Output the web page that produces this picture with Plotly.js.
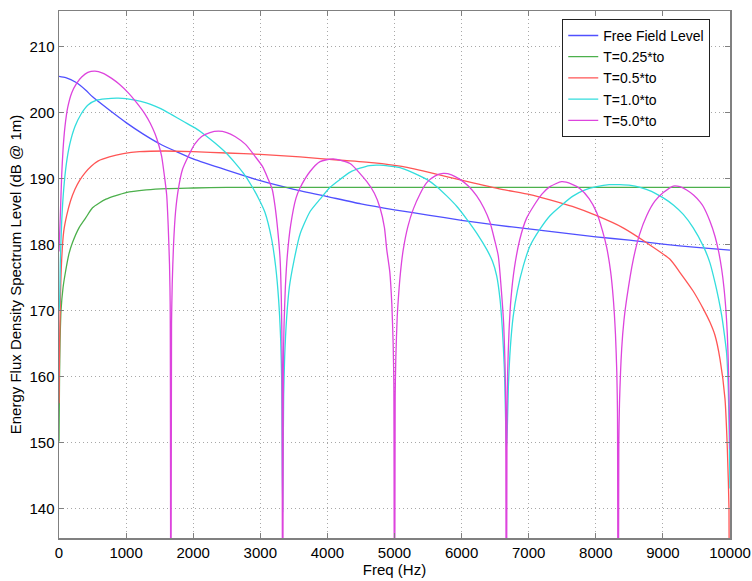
<!DOCTYPE html>
<html>
<head>
<meta charset="utf-8">
<script src="https://cdn.plot.ly/plotly-3.0.1.min.js"></script>
<style>html,body{margin:0;padding:0;background:#fff;}#chart{width:752px;height:581px;}</style>
</head>
<body>
<div id="chart"></div>
<script>
// Free Field Level
var freeF = [0,100,250,400,500,750,1000,1250,1500,1750,2000,2500,3000,3500,4000,4500,5000,5500,6000,6500,7000,7500,8000,8500,9000,9500,10000];
var freeL = [205.5,205.3,204.6,203.4,202.4,200.4,198.5,196.8,195.3,194.1,193.0,191.3,189.7,188.4,187.3,186.2,185.3,184.5,183.7,183.0,182.4,181.8,181.2,180.7,180.1,179.6,179.2];

// T=0.25*to
var t025F = [0,8,15,30,60,90,150,200,300,400,500,700,1000,1300,1600,2000,2500,3000,4000,5000,6000,7000,8000,9000,10000];
var t025L = [150.2,160,165,170,173.5,175.5,178.7,180.3,182.6,184.1,185.6,186.9,187.9,188.3,188.5,188.6,188.7,188.7,188.7,188.7,188.7,188.7,188.7,188.7,188.7];

// T=0.5*to
var t05F = [0,10,20,40,70,114,170,238,310,388,480,586,750,959,1200,1580,2000,2500,3000,3592,4200,4700,5082,5500,6076,6600,7019,7317,7650,8013,8400,8758,9106,9255,9450,9602,9700,9776,9851,9925,9960,9985,10000];
var t05L = [156,165.5,171.5,177.8,182.0,184.4,186.6,188.4,189.8,190.9,191.9,192.7,193.3,193.8,194.1,194.2,194.1,193.9,193.7,193.3,192.8,192.4,191.9,191.0,189.6,188.4,187.6,186.8,185.8,184.4,182.6,180.3,177.8,175.8,173.0,170.3,168.3,166.3,162.7,156.7,149.2,140,100];

// T=1.0*to
var t1F = [0,10,20,40,70,110,160,238,330,437,560,686,884,1133,1300,1431,1560,1679,1850,2027,2180,2325,2480,2623,2750,2872,2980,3070,3170,3230,3273,3303,3318,3333,
  3348,3363,3393,3433,3500,3592,3740,3890,4040,4188,4340,4486,4630,4784,4930,5082,5280,5480,5630,5778,5930,6076,6230,6374,6460,6523,6572,6607,6637,6652,6667,
  6682,6697,6727,6767,6830,6920,7019,7170,7317,7490,7665,7840,8013,8200,8360,8520,8659,8830,9006,9160,9304,9450,9602,9700,9776,9830,9876,9915,9950,9975,9990,10000];
var t1L = [170,171.5,177.5,183.5,188.4,192.3,195.2,197.9,199.8,201.2,201.9,202.1,202.2,201.9,201.5,201.0,200.4,199.7,198.7,197.7,196.6,195.4,194.0,192.4,190.8,188.9,186.9,184.9,180.8,176.6,171.7,165.8,159.8,139.6,
  157,163,169,173.6,177.5,181.6,185.0,186.9,188.7,189.9,191.0,191.6,192.0,192.05,191.9,191.7,190.9,189.9,188.8,187.4,185.8,183.9,181.7,179.3,177.5,175.3,171.8,167.3,161.3,155.3,148.9,
  152.5,158.5,164.5,169,173,176.8,179.8,182.4,184.4,186.0,187.4,188.3,188.8,189.1,189.1,189.0,188.7,188.1,187.1,186.0,184.6,182.6,179.8,177.3,174.3,171.8,169.3,166.5,163.5,158,150.3,143.1];

// T=5.0*to
var t5F = [0,20,40,60,89,130,189,260,338,430,536,650,785,900,1033,1150,1282,1360,1431,1490,1530,1570,1605,1627,1647,1657,1667,
  1677,1687,1707,1737,1778,1840,1927,2020,2126,2250,2375,2500,2623,2780,2921,3030,3119,3180,3219,3260,3294,3313,3323,3333,
  3343,3353,3373,3403,3453,3533,3592,3741,3890,4088,4337,4585,4700,4784,4850,4884,4930,4960,4980,4990,5000,
  5010,5020,5040,5057,5090,5131,5200,5280,5380,5480,5600,5727,5850,5976,6100,6225,6330,6423,6490,6547,6597,6627,6647,6657,6667,
  6677,6687,6707,6737,6787,6867,6967,7069,7200,7317,7491,7640,7765,7900,8013,8100,8162,8220,8261,8293,8313,8323,8333,
  8343,8353,8386,8420,8460,8559,8650,8758,8880,9006,9155,9255,9354,9460,9553,9602,9700,9776,9830,9876,9910,9940,9960,9975,9990,10000];
var t5L = [179,184.5,190.5,194.4,197.9,200.8,203.0,204.4,205.4,206.1,206.3,206.0,205.2,204.3,203.0,201.6,199.8,198.4,196.8,195.0,193.4,190.5,187.5,183,177,171,100,
  168,174,180,185,188.4,191.4,193.4,195.2,196.4,197.0,197.2,197.0,196.4,195.2,193.4,191.9,189.9,188.3,185.9,182.2,178,172,165,100,
  161.5,167.5,173.5,178.4,183,187.1,188.6,191.1,192.6,193.0,192.3,189.6,187.8,185.6,182.6,179.3,175.9,171,165,159,100,
  157,163,169,171.8,175.9,179.3,182.8,185.4,187.7,189.4,190.4,190.8,190.6,189.9,188.9,187.4,185.6,183.4,180.8,178.3,172.5,168,162,156,100,
  155,161,167,172,176.5,180.8,184.0,185.8,187.7,188.8,189.55,189.2,188.5,187.0,184.9,182.1,179.6,176.0,171.8,166.5,160.7,154.7,100,
  150,156,164.3,168.6,171.8,177.8,181.5,184.4,186.6,187.9,188.9,188.8,188.3,187.5,186.5,185.8,183.6,181.3,179.0,176.3,173.5,170.0,166.5,162.0,154.5,149];

var xTicks = [0,1000,2000,3000,4000,5000,6000,7000,8000,9000,10000];
var xTickText = ['0','1000','2000','3000','4000','5000','6000','7000','8000','9000','10000'];
var yTicks = [140,150,160,170,180,190,200,210];

var names = ['Free Field Level','T=0.25*to','T=0.5*to','T=1.0*to','T=5.0*to'];
var colors = ['#5050ff','#4cb04c','#ff5555','#33dddd','#dd44dd'];
var xs = [freeF, t025F, t05F, t1F, t5F];
var ys = [freeL, t025L, t05L, t1L, t5L];

var traces = names.map(function(n, i){
  return {x: xs[i], y: ys[i], name: n, type: 'scatter', mode: 'lines',
          line: {color: colors[i], width: 1.3, shape: 'spline', smoothing: 0.6}};
});

var fontFam = 'Liberation Sans, Arial, Helvetica, sans-serif';
var axisCommon = {
  ticks: 'inside', ticklen: 5, tickwidth: 1, tickcolor: '#808080',
  showline: true, linecolor: '#808080', linewidth: 1.5, mirror: 'ticks',
  showgrid: true, gridcolor: '#a8a8a8', griddash: '1px,3px', gridwidth: 1,
  zeroline: false, tickfont: {family: fontFam, size: 15, color: '#000'},
  automargin: false
};

var layout = {
  width: 752, height: 581,
  margin: {l: 59, r: 22, t: 11, b: 43},
  paper_bgcolor: '#fff', plot_bgcolor: '#fff',
  font: {family: fontFam, size: 15, color: '#000'},
  showlegend: true,
  legend: {x: 0.75, xanchor: 'left', y: 0.985, yanchor: 'top',
           bgcolor: '#fff', bordercolor: '#222', borderwidth: 1,
           font: {family: fontFam, size: 14, color: '#000'}, tracegroupgap: 0},
  xaxis: Object.assign({}, axisCommon, {
    range: [0, 10000], tickmode: 'array', tickvals: xTicks, ticktext: xTickText,
    title: {text: 'Freq (Hz)', font: {family: fontFam, size: 15, color: '#000'}, standoff: 4}
  }),
  yaxis: Object.assign({}, axisCommon, {
    range: [135.6, 215.4], tickmode: 'array', tickvals: yTicks,
    title: {text: 'Energy Flux Density Spectrum Level (dB @ 1m)', font: {family: fontFam, size: 15, color: '#000'}, standoff: 4}
  })
};

Plotly.newPlot('chart', traces, layout, {displayModeBar: false, staticPlot: true});
</script>
</body>
</html>
